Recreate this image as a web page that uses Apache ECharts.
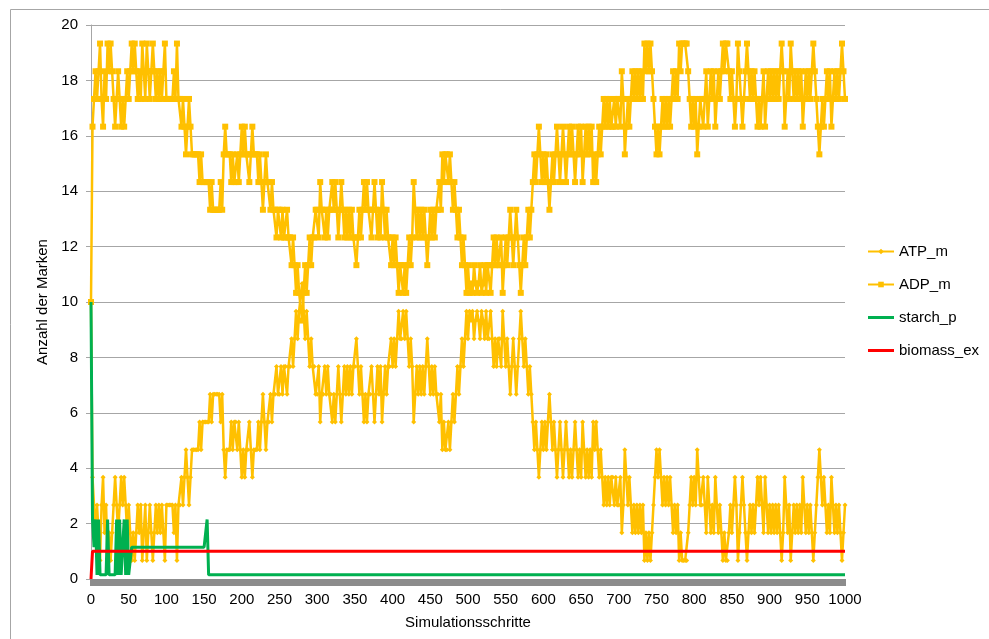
<!DOCTYPE html>
<html>
<head>
<meta charset="utf-8">
<script src="https://cdn.jsdelivr.net/npm/echarts@6/dist/echarts.min.js"></script>
<style>
html, body { margin: 0; padding: 0; background: #fff; }
#chart { width: 989px; height: 639px; }
</style>
</head>
<body>
<div id="chart"></div>
<script>
// simulation steps (every 2nd step)
var steps = [
  0, 2, 4, 6, 8, 10, 12, 14, 16, 18, 20, 22, 24, 26, 28, 30, 32, 34, 36, 38, 40, 42, 44, 46, 48,
  50, 52, 54, 56, 58, 60, 62, 64, 66, 68, 70, 72, 74, 76, 78, 80, 82, 84, 86, 88, 90, 92, 94, 96, 98,
  100, 102, 104, 106, 108, 110, 112, 114, 116, 118, 120, 122, 124, 126, 128, 130, 132, 134, 136, 138, 140, 142, 144, 146, 148,
  150, 152, 154, 156, 158, 160, 162, 164, 166, 168, 170, 172, 174, 176, 178, 180, 182, 184, 186, 188, 190, 192, 194, 196, 198,
  200, 202, 204, 206, 208, 210, 212, 214, 216, 218, 220, 222, 224, 226, 228, 230, 232, 234, 236, 238, 240, 242, 244, 246, 248,
  250, 252, 254, 256, 258, 260, 262, 264, 266, 268, 270, 272, 274, 276, 278, 280, 282, 284, 286, 288, 290, 292, 294, 296, 298,
  300, 302, 304, 306, 308, 310, 312, 314, 316, 318, 320, 322, 324, 326, 328, 330, 332, 334, 336, 338, 340, 342, 344, 346, 348,
  350, 352, 354, 356, 358, 360, 362, 364, 366, 368, 370, 372, 374, 376, 378, 380, 382, 384, 386, 388, 390, 392, 394, 396, 398,
  400, 402, 404, 406, 408, 410, 412, 414, 416, 418, 420, 422, 424, 426, 428, 430, 432, 434, 436, 438, 440, 442, 444, 446, 448,
  450, 452, 454, 456, 458, 460, 462, 464, 466, 468, 470, 472, 474, 476, 478, 480, 482, 484, 486, 488, 490, 492, 494, 496, 498,
  500, 502, 504, 506, 508, 510, 512, 514, 516, 518, 520, 522, 524, 526, 528, 530, 532, 534, 536, 538, 540, 542, 544, 546, 548,
  550, 552, 554, 556, 558, 560, 562, 564, 566, 568, 570, 572, 574, 576, 578, 580, 582, 584, 586, 588, 590, 592, 594, 596, 598,
  600, 602, 604, 606, 608, 610, 612, 614, 616, 618, 620, 622, 624, 626, 628, 630, 632, 634, 636, 638, 640, 642, 644, 646, 648,
  650, 652, 654, 656, 658, 660, 662, 664, 666, 668, 670, 672, 674, 676, 678, 680, 682, 684, 686, 688, 690, 692, 694, 696, 698,
  700, 702, 704, 706, 708, 710, 712, 714, 716, 718, 720, 722, 724, 726, 728, 730, 732, 734, 736, 738, 740, 742, 744, 746, 748,
  750, 752, 754, 756, 758, 760, 762, 764, 766, 768, 770, 772, 774, 776, 778, 780, 782, 784, 786, 788, 790, 792, 794, 796, 798,
  800, 802, 804, 806, 808, 810, 812, 814, 816, 818, 820, 822, 824, 826, 828, 830, 832, 834, 836, 838, 840, 842, 844, 846, 848,
  850, 852, 854, 856, 858, 860, 862, 864, 866, 868, 870, 872, 874, 876, 878, 880, 882, 884, 886, 888, 890, 892, 894, 896, 898,
  900, 902, 904, 906, 908, 910, 912, 914, 916, 918, 920, 922, 924, 926, 928, 930, 932, 934, 936, 938, 940, 942, 944, 946, 948,
  950, 952, 954, 956, 958, 960, 962, 964, 966, 968, 970, 972, 974, 976, 978, 980, 982, 984, 986, 988, 990, 992, 994, 996, 998,
  1000
];

var atpM = [
  10, 3.67, 2.67, 1.67, 2.67, 1.67, 0.67, 2.67, 3.67, 1.67, 2.67, 0.67, 1.67, 0.67, 1.67, 2.67, 3.67, 2.67, 1.67, 2.67, 3.67, 2.67, 3.67, 2.67, 1.67,
  2.67, 1.67, 0.67, 1.67, 0.67, 1.67, 2.67, 1.67, 2.67, 0.67, 1.67, 2.67, 0.67, 1.67, 2.67, 1.67, 0.67, 1.67, 2.67, 1.67, 2.67, 1.67, 2.67, 1.67, 0.67,
  2.67, 2.67, 2.67, 2.67, 2.67, 1.67, 2.67, 0.67, 2.67, 2.67, 3.67, 2.67, 3.67, 4.67, 3.67, 2.67, 3.67, 4.67, 4.67, 4.67, 4.67, 4.67, 5.67, 4.67, 5.67,
  5.67, 5.67, 5.67, 5.67, 6.67, 5.67, 6.67, 6.67, 6.67, 6.67, 6.67, 5.67, 6.67, 4.67, 3.67, 4.67, 4.67, 4.67, 5.67, 4.67, 5.67, 5.67, 4.67, 5.67, 4.67,
  3.67, 4.67, 3.67, 4.67, 4.67, 5.67, 4.67, 3.67, 4.67, 4.67, 4.67, 5.67, 4.67, 5.67, 6.67, 5.67, 4.67, 5.67, 5.67, 6.67, 5.67, 6.67, 6.67, 7.67, 6.67,
  6.67, 7.67, 6.67, 7.67, 7.67, 6.67, 7.67, 7.67, 8.67, 7.67, 8.67, 9.67, 8.67, 9.67, 9.67, 10.67, 9.67, 8.67, 9.67, 8.67, 7.67, 8.67, 7.67, 7.67, 6.67,
  6.67, 7.67, 5.67, 6.67, 6.67, 7.67, 6.67, 7.67, 6.67, 6.67, 5.67, 6.67, 5.67, 6.67, 7.67, 6.67, 5.67, 6.67, 7.67, 6.67, 7.67, 6.67, 7.67, 6.67, 7.67,
  7.67, 8.67, 7.67, 6.67, 7.67, 6.67, 5.67, 6.67, 5.67, 6.67, 6.67, 7.67, 6.67, 5.67, 6.67, 7.67, 6.67, 7.67, 5.67, 6.67, 7.67, 6.67, 7.67, 7.67, 8.67,
  7.67, 8.67, 7.67, 8.67, 9.67, 8.67, 8.67, 9.67, 8.67, 9.67, 8.67, 7.67, 8.67, 7.67, 5.67, 6.67, 7.67, 6.67, 7.67, 6.67, 7.67, 6.67, 7.67, 8.67, 7.67,
  6.67, 7.67, 6.67, 7.67, 6.67, 6.67, 5.67, 6.67, 4.67, 5.67, 4.67, 4.67, 5.67, 4.67, 5.67, 6.67, 5.67, 6.67, 7.67, 6.67, 7.67, 8.67, 7.67, 8.67, 9.67,
  8.67, 9.67, 9.33, 9.67, 8.67, 9.33, 9.67, 9.33, 8.67, 9.67, 9.33, 8.67, 9.67, 8.67, 8.67, 9.67, 8.67, 7.67, 8.67, 7.67, 8.67, 8.67, 7.67, 9.67, 8.67,
  7.67, 8.67, 7.67, 6.67, 7.67, 8.67, 7.67, 6.67, 7.67, 8.67, 9.67, 8.67, 7.67, 8.67, 7.67, 6.67, 7.67, 6.67, 5.67, 4.67, 5.67, 4.67, 3.67, 4.67, 5.67,
  4.67, 5.67, 4.67, 5.67, 6.67, 5.67, 4.67, 5.67, 4.67, 3.67, 4.67, 5.67, 4.67, 3.67, 4.67, 5.67, 4.67, 3.67, 4.67, 3.67, 4.67, 5.67, 4.67, 3.67, 4.67,
  3.67, 5.67, 4.67, 3.67, 4.67, 3.67, 4.67, 3.67, 5.67, 4.67, 5.67, 4.67, 3.67, 4.67, 3.67, 2.67, 3.67, 2.67, 3.67, 2.67, 3.67, 3.67, 2.67, 3.67, 2.67,
  2.67, 3.67, 1.67, 2.67, 4.67, 3.67, 2.67, 3.67, 2.67, 1.67, 2.67, 1.67, 2.67, 1.67, 2.67, 1.67, 2.67, 0.67, 1.67, 0.67, 1.67, 0.67, 1.67, 2.67, 3.67,
  4.67, 3.67, 4.67, 3.67, 2.67, 3.67, 2.67, 3.67, 2.67, 3.67, 2.67, 1.67, 2.67, 1.67, 2.67, 0.67, 1.67, 0.67, 0.67, 0.67, 0.67, 1.67, 2.67, 3.67, 2.67,
  3.67, 2.67, 4.67, 3.67, 2.67, 2.67, 3.67, 2.67, 1.67, 3.67, 2.67, 1.67, 2.67, 1.67, 3.67, 2.67, 1.67, 2.67, 1.67, 0.67, 1.67, 0.67, 0.67, 1.67, 2.67,
  1.67, 2.67, 3.67, 2.67, 0.67, 1.67, 2.67, 3.67, 2.67, 1.67, 0.67, 1.67, 2.67, 1.67, 2.67, 1.67, 2.67, 3.67, 2.67, 3.67, 2.67, 1.67, 3.67, 2.67, 1.67,
  2.67, 1.67, 2.67, 1.67, 2.67, 1.67, 2.67, 1.67, 0.67, 1.67, 3.67, 2.67, 1.67, 2.67, 0.67, 1.67, 2.67, 1.67, 2.67, 1.67, 2.67, 1.67, 3.67, 2.67, 1.67,
  2.67, 1.67, 2.67, 1.67, 0.67, 1.67, 2.67, 3.67, 4.67, 3.67, 2.67, 3.67, 2.67, 1.67, 2.67, 1.67, 3.67, 2.67, 1.67, 2.67, 1.67, 2.67, 1.67, 0.67, 1.67,
  2.67
];

var adpM = [
  10, 16.33, 17.33, 18.33, 17.33, 18.33, 19.33, 17.33, 16.33, 18.33, 17.33, 19.33, 18.33, 19.33, 18.33, 17.33, 16.33, 17.33, 18.33, 17.33, 16.33, 17.33, 16.33, 17.33, 18.33,
  17.33, 18.33, 19.33, 18.33, 19.33, 18.33, 17.33, 18.33, 17.33, 19.33, 18.33, 17.33, 19.33, 18.33, 17.33, 18.33, 19.33, 18.33, 17.33, 18.33, 17.33, 18.33, 17.33, 18.33, 19.33,
  17.33, 17.33, 17.33, 17.33, 17.33, 18.33, 17.33, 19.33, 17.33, 17.33, 16.33, 17.33, 16.33, 15.33, 16.33, 17.33, 16.33, 15.33, 15.33, 15.33, 15.33, 15.33, 14.33, 15.33, 14.33,
  14.33, 14.33, 14.33, 14.33, 13.33, 14.33, 13.33, 13.33, 13.33, 13.33, 13.33, 14.33, 13.33, 15.33, 16.33, 15.33, 15.33, 15.33, 14.33, 15.33, 14.33, 14.33, 15.33, 14.33, 15.33,
  16.33, 15.33, 16.33, 15.33, 15.33, 14.33, 15.33, 16.33, 15.33, 15.33, 15.33, 14.33, 15.33, 14.33, 13.33, 14.33, 15.33, 14.33, 14.33, 13.33, 14.33, 13.33, 13.33, 12.33, 13.33,
  13.33, 12.33, 13.33, 12.33, 12.33, 13.33, 12.33, 12.33, 11.33, 12.33, 11.33, 10.33, 11.33, 10.33, 10.33, 9.33, 10.33, 11.33, 10.33, 11.33, 12.33, 11.33, 12.33, 12.33, 13.33,
  13.33, 12.33, 14.33, 13.33, 13.33, 12.33, 13.33, 12.33, 13.33, 13.33, 14.33, 13.33, 14.33, 13.33, 12.33, 13.33, 14.33, 13.33, 12.33, 13.33, 12.33, 13.33, 12.33, 13.33, 12.33,
  12.33, 11.33, 12.33, 13.33, 12.33, 13.33, 14.33, 13.33, 14.33, 13.33, 13.33, 12.33, 13.33, 14.33, 13.33, 12.33, 13.33, 12.33, 14.33, 13.33, 12.33, 13.33, 12.33, 12.33, 11.33,
  12.33, 11.33, 12.33, 11.33, 10.33, 11.33, 11.33, 10.33, 11.33, 10.33, 11.33, 12.33, 11.33, 12.33, 14.33, 13.33, 12.33, 13.33, 12.33, 13.33, 12.33, 13.33, 12.33, 11.33, 12.33,
  13.33, 12.33, 13.33, 12.33, 13.33, 13.33, 14.33, 13.33, 15.33, 14.33, 15.33, 15.33, 14.33, 15.33, 14.33, 13.33, 14.33, 13.33, 12.33, 13.33, 12.33, 11.33, 12.33, 11.33, 10.33,
  11.33, 10.33, 10.67, 10.33, 11.33, 10.67, 10.33, 10.67, 11.33, 10.33, 10.67, 11.33, 10.33, 11.33, 11.33, 10.33, 11.33, 12.33, 11.33, 12.33, 11.33, 11.33, 12.33, 10.33, 11.33,
  12.33, 11.33, 12.33, 13.33, 12.33, 11.33, 12.33, 13.33, 12.33, 11.33, 10.33, 11.33, 12.33, 11.33, 12.33, 13.33, 12.33, 13.33, 14.33, 15.33, 14.33, 15.33, 16.33, 15.33, 14.33,
  15.33, 14.33, 15.33, 14.33, 13.33, 14.33, 15.33, 14.33, 15.33, 16.33, 15.33, 14.33, 15.33, 16.33, 15.33, 14.33, 15.33, 16.33, 15.33, 16.33, 15.33, 14.33, 15.33, 16.33, 15.33,
  16.33, 14.33, 15.33, 16.33, 15.33, 16.33, 15.33, 16.33, 14.33, 15.33, 14.33, 15.33, 16.33, 15.33, 16.33, 17.33, 16.33, 17.33, 16.33, 17.33, 16.33, 16.33, 17.33, 16.33, 17.33,
  17.33, 16.33, 18.33, 17.33, 15.33, 16.33, 17.33, 16.33, 17.33, 18.33, 17.33, 18.33, 17.33, 18.33, 17.33, 18.33, 17.33, 19.33, 18.33, 19.33, 18.33, 19.33, 18.33, 17.33, 16.33,
  15.33, 16.33, 15.33, 16.33, 17.33, 16.33, 17.33, 16.33, 17.33, 16.33, 17.33, 18.33, 17.33, 18.33, 17.33, 19.33, 18.33, 19.33, 19.33, 19.33, 19.33, 18.33, 17.33, 16.33, 17.33,
  16.33, 17.33, 15.33, 16.33, 17.33, 17.33, 16.33, 17.33, 18.33, 16.33, 17.33, 18.33, 17.33, 18.33, 16.33, 17.33, 18.33, 17.33, 18.33, 19.33, 18.33, 19.33, 19.33, 18.33, 17.33,
  18.33, 17.33, 16.33, 17.33, 19.33, 18.33, 17.33, 16.33, 17.33, 18.33, 19.33, 18.33, 17.33, 18.33, 17.33, 18.33, 17.33, 16.33, 17.33, 16.33, 17.33, 18.33, 16.33, 17.33, 18.33,
  17.33, 18.33, 17.33, 18.33, 17.33, 18.33, 17.33, 18.33, 19.33, 18.33, 16.33, 17.33, 18.33, 17.33, 19.33, 18.33, 17.33, 18.33, 17.33, 18.33, 17.33, 18.33, 16.33, 17.33, 18.33,
  17.33, 18.33, 17.33, 18.33, 19.33, 18.33, 17.33, 16.33, 15.33, 16.33, 17.33, 16.33, 17.33, 18.33, 17.33, 18.33, 16.33, 17.33, 18.33, 17.33, 18.33, 17.33, 18.33, 19.33, 18.33,
  17.33
];

var starchP = [
  10, 2.15, 1.15, 2.15, 0.15, 2.15, 0.15, 0.15, 0.15, 0.15, 0.15, 2.15, 0.15, 0.15, 0.15, 0.15, 0.15, 2.15, 0.15, 2.15, 0.15, 1.15, 2.15, 0.15, 2.15,
  0.15, 0.15, 1.15, 1.15, 1.15, 1.15, 1.15, 1.15, 1.15, 1.15, 1.15, 1.15, 1.15, 1.15, 1.15, 1.15, 1.15, 1.15, 1.15, 1.15, 1.15, 1.15, 1.15, 1.15, 1.15,
  1.15, 1.15, 1.15, 1.15, 1.15, 1.15, 1.15, 1.15, 1.15, 1.15, 1.15, 1.15, 1.15, 1.15, 1.15, 1.15, 1.15, 1.15, 1.15, 1.15, 1.15, 1.15, 1.15, 1.15, 1.15,
  1.15, 1.15, 2.15, 0.15, 0.15, 0.15, 0.15, 0.15, 0.15, 0.15, 0.15, 0.15, 0.15, 0.15, 0.15, 0.15, 0.15, 0.15, 0.15, 0.15, 0.15, 0.15, 0.15, 0.15, 0.15,
  0.15, 0.15, 0.15, 0.15, 0.15, 0.15, 0.15, 0.15, 0.15, 0.15, 0.15, 0.15, 0.15, 0.15, 0.15, 0.15, 0.15, 0.15, 0.15, 0.15, 0.15, 0.15, 0.15, 0.15, 0.15,
  0.15, 0.15, 0.15, 0.15, 0.15, 0.15, 0.15, 0.15, 0.15, 0.15, 0.15, 0.15, 0.15, 0.15, 0.15, 0.15, 0.15, 0.15, 0.15, 0.15, 0.15, 0.15, 0.15, 0.15, 0.15,
  0.15, 0.15, 0.15, 0.15, 0.15, 0.15, 0.15, 0.15, 0.15, 0.15, 0.15, 0.15, 0.15, 0.15, 0.15, 0.15, 0.15, 0.15, 0.15, 0.15, 0.15, 0.15, 0.15, 0.15, 0.15,
  0.15, 0.15, 0.15, 0.15, 0.15, 0.15, 0.15, 0.15, 0.15, 0.15, 0.15, 0.15, 0.15, 0.15, 0.15, 0.15, 0.15, 0.15, 0.15, 0.15, 0.15, 0.15, 0.15, 0.15, 0.15,
  0.15, 0.15, 0.15, 0.15, 0.15, 0.15, 0.15, 0.15, 0.15, 0.15, 0.15, 0.15, 0.15, 0.15, 0.15, 0.15, 0.15, 0.15, 0.15, 0.15, 0.15, 0.15, 0.15, 0.15, 0.15,
  0.15, 0.15, 0.15, 0.15, 0.15, 0.15, 0.15, 0.15, 0.15, 0.15, 0.15, 0.15, 0.15, 0.15, 0.15, 0.15, 0.15, 0.15, 0.15, 0.15, 0.15, 0.15, 0.15, 0.15, 0.15,
  0.15, 0.15, 0.15, 0.15, 0.15, 0.15, 0.15, 0.15, 0.15, 0.15, 0.15, 0.15, 0.15, 0.15, 0.15, 0.15, 0.15, 0.15, 0.15, 0.15, 0.15, 0.15, 0.15, 0.15, 0.15,
  0.15, 0.15, 0.15, 0.15, 0.15, 0.15, 0.15, 0.15, 0.15, 0.15, 0.15, 0.15, 0.15, 0.15, 0.15, 0.15, 0.15, 0.15, 0.15, 0.15, 0.15, 0.15, 0.15, 0.15, 0.15,
  0.15, 0.15, 0.15, 0.15, 0.15, 0.15, 0.15, 0.15, 0.15, 0.15, 0.15, 0.15, 0.15, 0.15, 0.15, 0.15, 0.15, 0.15, 0.15, 0.15, 0.15, 0.15, 0.15, 0.15, 0.15,
  0.15, 0.15, 0.15, 0.15, 0.15, 0.15, 0.15, 0.15, 0.15, 0.15, 0.15, 0.15, 0.15, 0.15, 0.15, 0.15, 0.15, 0.15, 0.15, 0.15, 0.15, 0.15, 0.15, 0.15, 0.15,
  0.15, 0.15, 0.15, 0.15, 0.15, 0.15, 0.15, 0.15, 0.15, 0.15, 0.15, 0.15, 0.15, 0.15, 0.15, 0.15, 0.15, 0.15, 0.15, 0.15, 0.15, 0.15, 0.15, 0.15, 0.15,
  0.15, 0.15, 0.15, 0.15, 0.15, 0.15, 0.15, 0.15, 0.15, 0.15, 0.15, 0.15, 0.15, 0.15, 0.15, 0.15, 0.15, 0.15, 0.15, 0.15, 0.15, 0.15, 0.15, 0.15, 0.15,
  0.15, 0.15, 0.15, 0.15, 0.15, 0.15, 0.15, 0.15, 0.15, 0.15, 0.15, 0.15, 0.15, 0.15, 0.15, 0.15, 0.15, 0.15, 0.15, 0.15, 0.15, 0.15, 0.15, 0.15, 0.15,
  0.15, 0.15, 0.15, 0.15, 0.15, 0.15, 0.15, 0.15, 0.15, 0.15, 0.15, 0.15, 0.15, 0.15, 0.15, 0.15, 0.15, 0.15, 0.15, 0.15, 0.15, 0.15, 0.15, 0.15, 0.15,
  0.15, 0.15, 0.15, 0.15, 0.15, 0.15, 0.15, 0.15, 0.15, 0.15, 0.15, 0.15, 0.15, 0.15, 0.15, 0.15, 0.15, 0.15, 0.15, 0.15, 0.15, 0.15, 0.15, 0.15, 0.15,
  0.15, 0.15, 0.15, 0.15, 0.15, 0.15, 0.15, 0.15, 0.15, 0.15, 0.15, 0.15, 0.15, 0.15, 0.15, 0.15, 0.15, 0.15, 0.15, 0.15, 0.15, 0.15, 0.15, 0.15, 0.15,
  0.15
];

var biomassEx = [
  0, 1, 1, 1, 1, 1, 1, 1, 1, 1, 1, 1, 1, 1, 1, 1, 1, 1, 1, 1, 1, 1, 1, 1, 1,
  1, 1, 1, 1, 1, 1, 1, 1, 1, 1, 1, 1, 1, 1, 1, 1, 1, 1, 1, 1, 1, 1, 1, 1, 1,
  1, 1, 1, 1, 1, 1, 1, 1, 1, 1, 1, 1, 1, 1, 1, 1, 1, 1, 1, 1, 1, 1, 1, 1, 1,
  1, 1, 1, 1, 1, 1, 1, 1, 1, 1, 1, 1, 1, 1, 1, 1, 1, 1, 1, 1, 1, 1, 1, 1, 1,
  1, 1, 1, 1, 1, 1, 1, 1, 1, 1, 1, 1, 1, 1, 1, 1, 1, 1, 1, 1, 1, 1, 1, 1, 1,
  1, 1, 1, 1, 1, 1, 1, 1, 1, 1, 1, 1, 1, 1, 1, 1, 1, 1, 1, 1, 1, 1, 1, 1, 1,
  1, 1, 1, 1, 1, 1, 1, 1, 1, 1, 1, 1, 1, 1, 1, 1, 1, 1, 1, 1, 1, 1, 1, 1, 1,
  1, 1, 1, 1, 1, 1, 1, 1, 1, 1, 1, 1, 1, 1, 1, 1, 1, 1, 1, 1, 1, 1, 1, 1, 1,
  1, 1, 1, 1, 1, 1, 1, 1, 1, 1, 1, 1, 1, 1, 1, 1, 1, 1, 1, 1, 1, 1, 1, 1, 1,
  1, 1, 1, 1, 1, 1, 1, 1, 1, 1, 1, 1, 1, 1, 1, 1, 1, 1, 1, 1, 1, 1, 1, 1, 1,
  1, 1, 1, 1, 1, 1, 1, 1, 1, 1, 1, 1, 1, 1, 1, 1, 1, 1, 1, 1, 1, 1, 1, 1, 1,
  1, 1, 1, 1, 1, 1, 1, 1, 1, 1, 1, 1, 1, 1, 1, 1, 1, 1, 1, 1, 1, 1, 1, 1, 1,
  1, 1, 1, 1, 1, 1, 1, 1, 1, 1, 1, 1, 1, 1, 1, 1, 1, 1, 1, 1, 1, 1, 1, 1, 1,
  1, 1, 1, 1, 1, 1, 1, 1, 1, 1, 1, 1, 1, 1, 1, 1, 1, 1, 1, 1, 1, 1, 1, 1, 1,
  1, 1, 1, 1, 1, 1, 1, 1, 1, 1, 1, 1, 1, 1, 1, 1, 1, 1, 1, 1, 1, 1, 1, 1, 1,
  1, 1, 1, 1, 1, 1, 1, 1, 1, 1, 1, 1, 1, 1, 1, 1, 1, 1, 1, 1, 1, 1, 1, 1, 1,
  1, 1, 1, 1, 1, 1, 1, 1, 1, 1, 1, 1, 1, 1, 1, 1, 1, 1, 1, 1, 1, 1, 1, 1, 1,
  1, 1, 1, 1, 1, 1, 1, 1, 1, 1, 1, 1, 1, 1, 1, 1, 1, 1, 1, 1, 1, 1, 1, 1, 1,
  1, 1, 1, 1, 1, 1, 1, 1, 1, 1, 1, 1, 1, 1, 1, 1, 1, 1, 1, 1, 1, 1, 1, 1, 1,
  1, 1, 1, 1, 1, 1, 1, 1, 1, 1, 1, 1, 1, 1, 1, 1, 1, 1, 1, 1, 1, 1, 1, 1, 1,
  1
];

var font = '"Liberation Sans", Arial, sans-serif';
var gold = '#FFC000';
var lineIcon = 'path://M0,0L26,0L26,3L0,3Z';

var chart = echarts.init(document.getElementById('chart'));
chart.setOption({
  animation: false,
  backgroundColor: '#fff',
  textStyle: { fontFamily: font },
  graphic: [
    {
      type: 'rect',
      shape: { x: 10.5, y: 9.5, width: 1000, height: 700 },
      style: { fill: 'none', stroke: '#A6A6A6', lineWidth: 1 },
      silent: true
    }
  ],
  grid: { left: 91, right: 144, top: 25, bottom: 60 },
  legend: {
    orient: 'vertical',
    left: 862,
    top: 239,
    itemWidth: 26,
    itemHeight: 7,
    itemGap: 18,
    textStyle: { fontFamily: font, fontSize: 15, color: '#000' },
    data: [
      'ATP_m',
      'ADP_m',
      { name: 'starch_p', icon: lineIcon },
      { name: 'biomass_ex', icon: lineIcon }
    ]
  },
  xAxis: {
    type: 'category',
    data: steps,
    boundaryGap: false,
    name: 'Simulationsschritte',
    nameLocation: 'middle',
    nameGap: 36,
    nameTextStyle: { fontFamily: font, fontSize: 15, color: '#000' },
    axisLine: { lineStyle: { color: '#A6A6A6', width: 1 } },
    axisTick: { interval: 0, length: 7, lineStyle: { color: '#8C8C8C', width: 2 } },
    axisLabel: { interval: 24, margin: 13, fontFamily: font, fontSize: 15, color: '#000' },
    splitLine: { show: false }
  },
  yAxis: {
    type: 'value',
    min: 0,
    max: 20,
    interval: 2,
    name: 'Anzahl der Marken',
    nameLocation: 'middle',
    nameGap: 34,
    nameTextStyle: { fontFamily: font, fontSize: 15, color: '#000' },
    axisLine: { show: true, lineStyle: { color: '#A6A6A6', width: 1 } },
    axisTick: { show: true, length: 5, lineStyle: { color: '#A6A6A6' } },
    axisLabel: { margin: 13, fontFamily: font, fontSize: 15, color: '#000' },
    splitLine: { lineStyle: { color: '#A6A6A6', width: 1 } }
  },
  series: [
    {
      name: 'ATP_m',
      type: 'line',
      data: atpM,
      symbol: 'diamond',
      symbolSize: 5,
      showSymbol: true,
      showAllSymbol: true,
      lineStyle: { color: gold, width: 2.5 },
      itemStyle: { color: gold },
      z: 2
    },
    {
      name: 'ADP_m',
      type: 'line',
      data: adpM,
      symbol: 'rect',
      symbolSize: 6,
      showSymbol: true,
      showAllSymbol: true,
      lineStyle: { color: gold, width: 2.5 },
      itemStyle: { color: gold },
      z: 2
    },
    {
      name: 'starch_p',
      type: 'line',
      data: starchP,
      symbol: 'none',
      lineStyle: { color: '#00B050', width: 3 },
      itemStyle: { color: '#00B050' },
      z: 3
    },
    {
      name: 'biomass_ex',
      type: 'line',
      data: biomassEx,
      symbol: 'none',
      lineStyle: { color: '#FF0000', width: 3 },
      itemStyle: { color: '#FF0000' },
      z: 4
    }
  ]
});
</script>
</body>
</html>
